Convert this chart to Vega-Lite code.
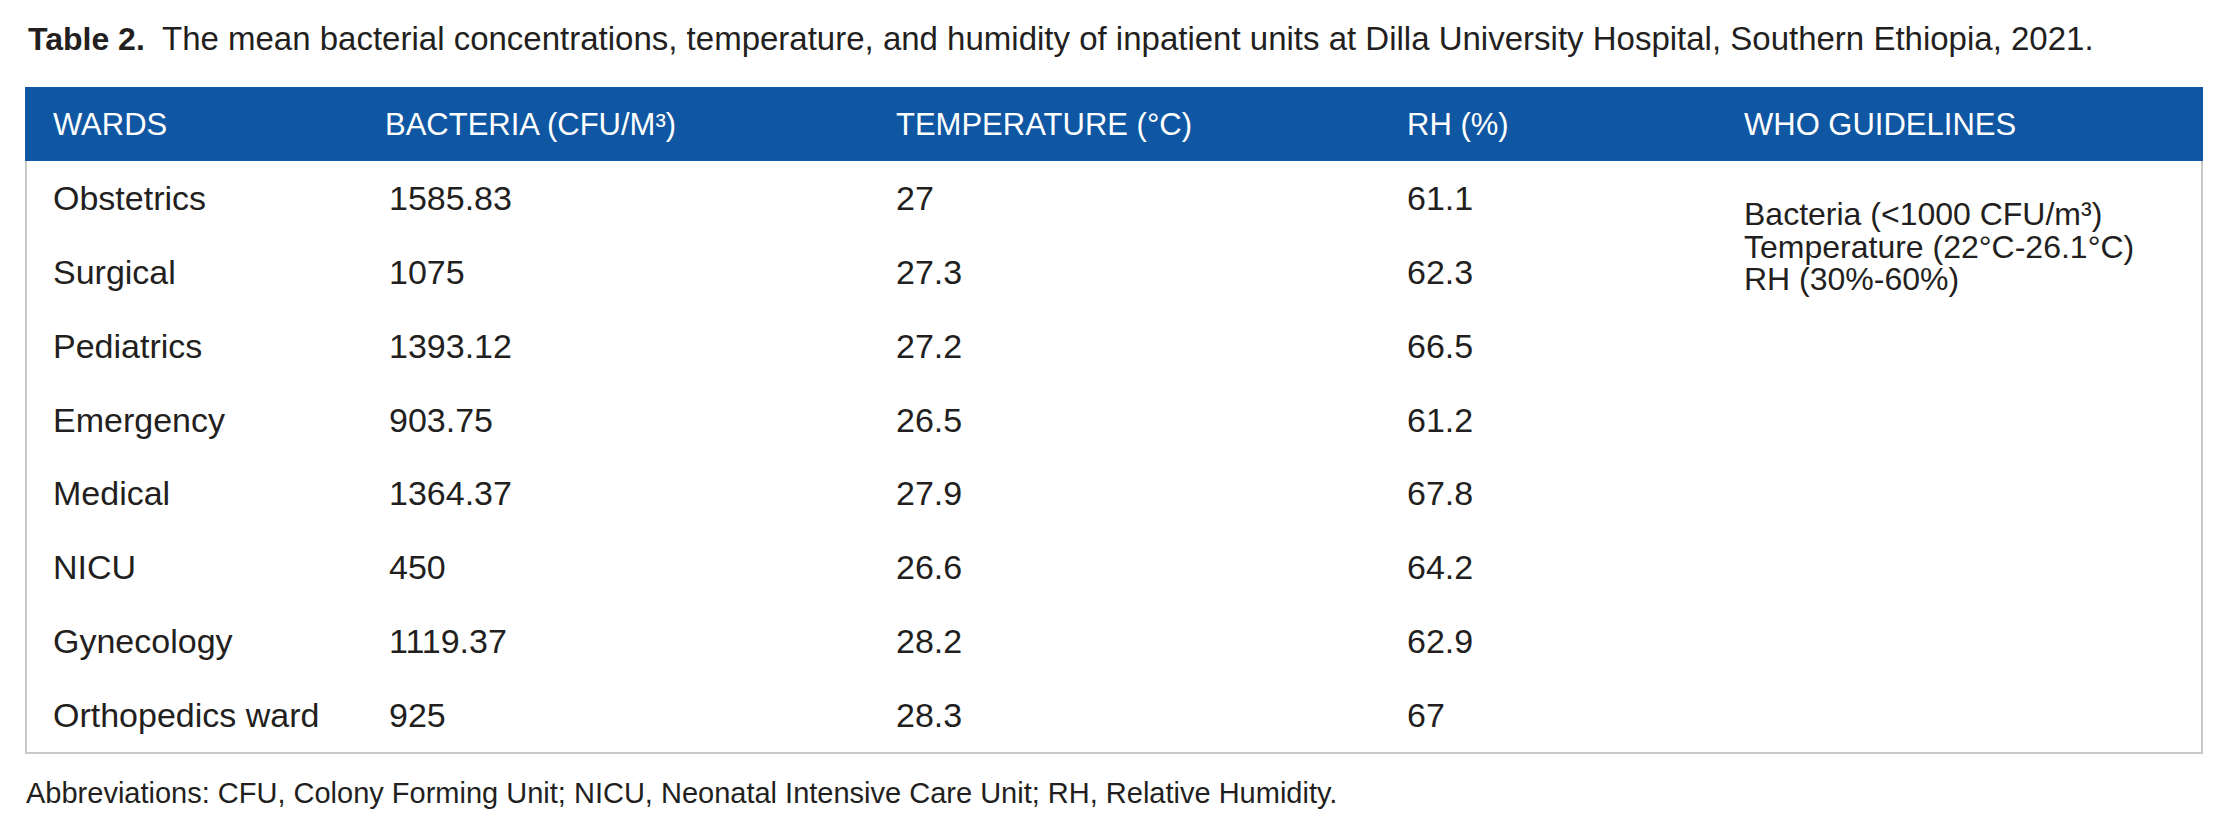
{
  "$schema": "https://vega.github.io/schema/vega-lite/v6.json",
  "width": 2229,
  "height": 837,
  "autosize": {"type": "fit", "contains": "padding"},
  "padding": 0,
  "background": "white",
  "config": {"view": {"stroke": null}, "text": {"font": "Liberation Sans", "color": "#231f20", "align": "left", "baseline": "alphabetic"}},
  "datasets": {
    "wards": [
      {"ward": "Obstetrics", "bacteria": 1585.83, "temperature": 27, "rh": 61.1},
      {"ward": "Surgical", "bacteria": 1075, "temperature": 27.3, "rh": 62.3},
      {"ward": "Pediatrics", "bacteria": 1393.12, "temperature": 27.2, "rh": 66.5},
      {"ward": "Emergency", "bacteria": 903.75, "temperature": 26.5, "rh": 61.2},
      {"ward": "Medical", "bacteria": 1364.37, "temperature": 27.9, "rh": 67.8},
      {"ward": "NICU", "bacteria": 450, "temperature": 26.6, "rh": 64.2},
      {"ward": "Gynecology", "bacteria": 1119.37, "temperature": 28.2, "rh": 62.9},
      {"ward": "Orthopedics ward", "bacteria": 925, "temperature": 28.3, "rh": 67}
    ],
    "headers": [
      {"col": "WARDS"}, {"col": "BACTERIA (CFU/M³)"}, {"col": "TEMPERATURE (°C)"}, {"col": "RH (%)"}, {"col": "WHO GUIDELINES"}
    ],
    "who": [
      {"line": "Bacteria (<1000 CFU/m³)"},
      {"line": "Temperature (22°C-26.1°C)"},
      {"line": "RH (30%-60%)"}
    ],
    "titles": [
      {"part": "bold", "label": "Table 2."},
      {"part": "regular", "label": "The mean bacterial concentrations, temperature, and humidity of inpatient units at Dilla University Hospital, Southern Ethiopia, 2021."}
    ],
    "notes": [
      {"label": "Abbreviations: CFU, Colony Forming Unit; NICU, Neonatal Intensive Care Unit; RH, Relative Humidity."}
    ]
  },
  "resolve": {"scale": {"x": "independent", "y": "independent"}},
  "layer": [
    {
      "data": {"values": [{}]},
      "mark": {"type": "rect", "fill": "white", "stroke": "#c8c8c8", "strokeWidth": 2},
      "encoding": {"x": {"value": 26}, "x2": {"value": 2202}, "y": {"value": 150}, "y2": {"value": 753}}
    },
    {
      "data": {"values": [{}]},
      "mark": {"type": "rect", "fill": "#0F56A3"},
      "encoding": {"x": {"value": 25}, "x2": {"value": 2203}, "y": {"value": 87}, "y2": {"value": 161}}
    },
    {
      "data": {"name": "headers"},
      "transform": [{"filter": "datum.col == 'WARDS'"}],
      "mark": {"type": "text", "fontSize": 31, "color": "white"},
      "encoding": {"x": {"value": 53}, "y": {"value": 135}, "text": {"field": "col"}}
    },
    {
      "data": {"name": "headers"},
      "transform": [{"filter": "datum.col == 'BACTERIA (CFU/M³)'"}],
      "mark": {"type": "text", "fontSize": 31, "color": "white"},
      "encoding": {"x": {"value": 385}, "y": {"value": 135}, "text": {"field": "col"}}
    },
    {
      "data": {"name": "headers"},
      "transform": [{"filter": "datum.col == 'TEMPERATURE (°C)'"}],
      "mark": {"type": "text", "fontSize": 31, "color": "white"},
      "encoding": {"x": {"value": 896}, "y": {"value": 135}, "text": {"field": "col"}}
    },
    {
      "data": {"name": "headers"},
      "transform": [{"filter": "datum.col == 'RH (%)'"}],
      "mark": {"type": "text", "fontSize": 31, "color": "white"},
      "encoding": {"x": {"value": 1407}, "y": {"value": 135}, "text": {"field": "col"}}
    },
    {
      "data": {"name": "headers"},
      "transform": [{"filter": "datum.col == 'WHO GUIDELINES'"}],
      "mark": {"type": "text", "fontSize": 31, "color": "white"},
      "encoding": {"x": {"value": 1744}, "y": {"value": 135}, "text": {"field": "col"}}
    },
    {
      "data": {"name": "wards"},
      "mark": {"type": "text", "fontSize": 34},
      "encoding": {
        "x": {"value": 53},
        "y": {"field": "ward", "type": "nominal", "sort": null, "axis": null, "scale": {"type": "point", "range": [210, 727], "padding": 0}},
        "text": {"field": "ward"}
      }
    },
    {
      "data": {"name": "wards"},
      "mark": {"type": "text", "fontSize": 34},
      "encoding": {
        "x": {"value": 389},
        "y": {"field": "ward", "type": "nominal", "sort": null, "axis": null, "scale": {"type": "point", "range": [210, 727], "padding": 0}},
        "text": {"field": "bacteria", "type": "quantitative", "format": "~f"}
      }
    },
    {
      "data": {"name": "wards"},
      "mark": {"type": "text", "fontSize": 34},
      "encoding": {
        "x": {"value": 896},
        "y": {"field": "ward", "type": "nominal", "sort": null, "axis": null, "scale": {"type": "point", "range": [210, 727], "padding": 0}},
        "text": {"field": "temperature", "type": "quantitative", "format": "~f"}
      }
    },
    {
      "data": {"name": "wards"},
      "mark": {"type": "text", "fontSize": 34},
      "encoding": {
        "x": {"value": 1407},
        "y": {"field": "ward", "type": "nominal", "sort": null, "axis": null, "scale": {"type": "point", "range": [210, 727], "padding": 0}},
        "text": {"field": "rh", "type": "quantitative", "format": "~f"}
      }
    },
    {
      "data": {"name": "who"},
      "mark": {"type": "text", "fontSize": 32},
      "encoding": {
        "x": {"value": 1744},
        "y": {"field": "line", "type": "nominal", "sort": null, "axis": null, "scale": {"type": "point", "range": [225, 290], "padding": 0}},
        "text": {"field": "line"}
      }
    },
    {
      "data": {"name": "titles"},
      "transform": [{"filter": "datum.part == 'bold'"}],
      "mark": {"type": "text", "fontSize": 32, "fontWeight": "bold"},
      "encoding": {"x": {"value": 28}, "y": {"value": 50}, "text": {"field": "label"}}
    },
    {
      "data": {"name": "titles"},
      "transform": [{"filter": "datum.part == 'regular'"}],
      "mark": {"type": "text", "fontSize": 33},
      "encoding": {"x": {"value": 162}, "y": {"value": 50}, "text": {"field": "label"}}
    },
    {
      "data": {"name": "notes"},
      "mark": {"type": "text", "fontSize": 29},
      "encoding": {"x": {"value": 26}, "y": {"value": 803}, "text": {"field": "label"}}
    }
  ]
}
